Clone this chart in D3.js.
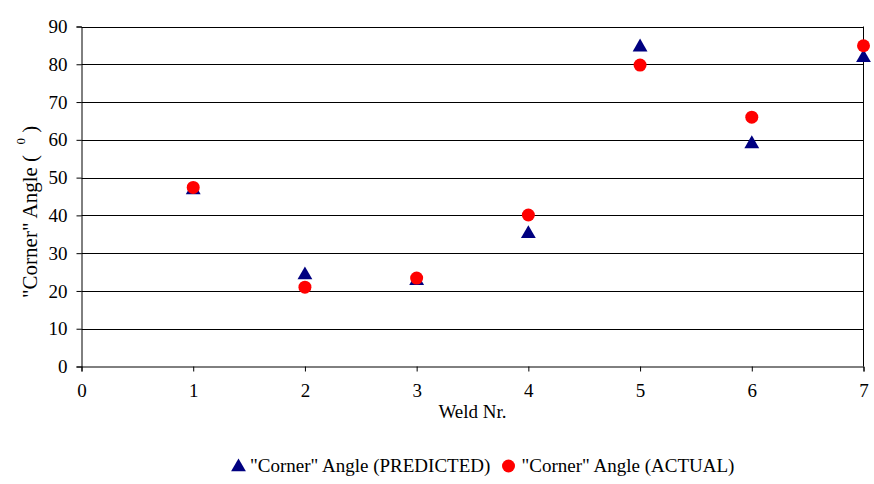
<!DOCTYPE html>
<html>
<head>
<meta charset="utf-8">
<script src="https://cdn.jsdelivr.net/npm/d3@7"></script>
<style>
  html, body { margin: 0; padding: 0; background: #fff; }
  svg { display: block; }
  svg text { font-family: "Liberation Serif", "Times New Roman", serif; fill: #000; }
</style>
</head>
<body>
<svg id="chart" width="874" height="484"></svg>
<script>
// Weld numbers and measured / predicted corner angles (degrees)
const welds = [1, 2, 3, 4, 5, 6, 7];
const predicted = [47, 24.5, 23, 35.4, 84.8, 59.2, 82];
const actual = [47.4, 21, 23.4, 40.1, 79.8, 66, 84.9];
const xTicks = [0, 1, 2, 3, 4, 5, 6, 7];
const yTicks = [0, 10, 20, 30, 40, 50, 60, 70, 80, 90];
const seriesNames = ['"Corner" Angle (PREDICTED)', '"Corner" Angle (ACTUAL)'];

const FS = 19;
const svg = d3.select("#chart");
const m = { left: 81.5, right: 863.5, top: 26.5, bottom: 366.5 };

const x = d3.scaleLinear().domain([0, 7]).range([m.left, m.right]);
const y = d3.scaleLinear().domain([0, 90]).range([m.bottom, m.top]);

// Horizontal gridlines
svg.append("g")
  .selectAll("line")
  .data(yTicks.filter(d => d > 0))
  .join("line")
  .attr("x1", m.left).attr("x2", m.right)
  .attr("y1", d => Math.round(y(d)) + 0.5).attr("y2", d => Math.round(y(d)) + 0.5)
  .attr("stroke", "#000").attr("stroke-width", 1);

// Right border
svg.append("line")
  .attr("x1", m.right).attr("x2", m.right)
  .attr("y1", m.top).attr("y2", m.bottom)
  .attr("stroke", "#000");

// Y axis
const yAxis = svg.append("g")
  .attr("transform", `translate(${m.left},0)`)
  .call(d3.axisLeft(y).tickValues(yTicks).tickSize(5).tickPadding(9).tickFormat(d3.format("d")));
yAxis.attr("font-family", null).attr("font-size", null);
yAxis.select(".domain").attr("stroke", "#000");
yAxis.selectAll(".tick line").attr("stroke", "#000");
yAxis.selectAll("text").attr("font-size", FS).attr("fill", "#000");

// X axis
const xAxis = svg.append("g")
  .attr("transform", `translate(0,${m.bottom})`)
  .call(d3.axisBottom(x).tickValues(xTicks).tickSize(5).tickPadding(12).tickFormat(d3.format("d")));
xAxis.attr("font-family", null).attr("font-size", null);
xAxis.select(".domain").attr("stroke", "#000");
xAxis.selectAll(".tick line").attr("stroke", "#000");
xAxis.selectAll("text").attr("font-size", FS).attr("fill", "#000");

// Axis titles
svg.append("text")
  .attr("x", (m.left + m.right) / 2).attr("y", 418)
  .attr("text-anchor", "middle").attr("font-size", FS)
  .text("Weld Nr.");

const yTitle = svg.append("text")
  .attr("transform", `translate(37,298) rotate(-90)`)
  .attr("text-anchor", "start").attr("font-size", 21)
  .attr("xml:space", "preserve").style("white-space", "pre");
yTitle.append("tspan").text('"Corner" Angle (  ');
yTitle.append("tspan").attr("font-size", 13).attr("dy", -12).text("0");
yTitle.append("tspan").attr("dy", 12).text(" )");

// Marker shapes
const tri = d3.symbol().type(d3.symbolTriangle).size(95);

const pts = welds.map((w, i) => ({ w, p: predicted[i], a: actual[i] }));

svg.append("g")
  .selectAll("path")
  .data(pts)
  .join("path")
  .attr("d", tri)
  .attr("transform", d => `translate(${x(d.w)},${y(d.p) + 1})`)
  .attr("fill", "#000080");

svg.append("g")
  .selectAll("circle")
  .data(pts)
  .join("circle")
  .attr("cx", d => x(d.w)).attr("cy", d => y(d.a))
  .attr("r", 6.5)
  .attr("fill", "#ff0000");

// Legend
const leg = svg.append("g");
leg.append("path")
  .attr("d", tri)
  .attr("transform", "translate(238.5,467)")
  .attr("fill", "#000080");
leg.append("text").attr("x", 250).attr("y", 472).attr("font-size", FS).text(seriesNames[0]);
leg.append("circle").attr("cx", 508.5).attr("cy", 466).attr("r", 6.5).attr("fill", "#ff0000");
leg.append("text").attr("x", 521.5).attr("y", 472).attr("font-size", FS).text(seriesNames[1]);
</script>
</body>
</html>
